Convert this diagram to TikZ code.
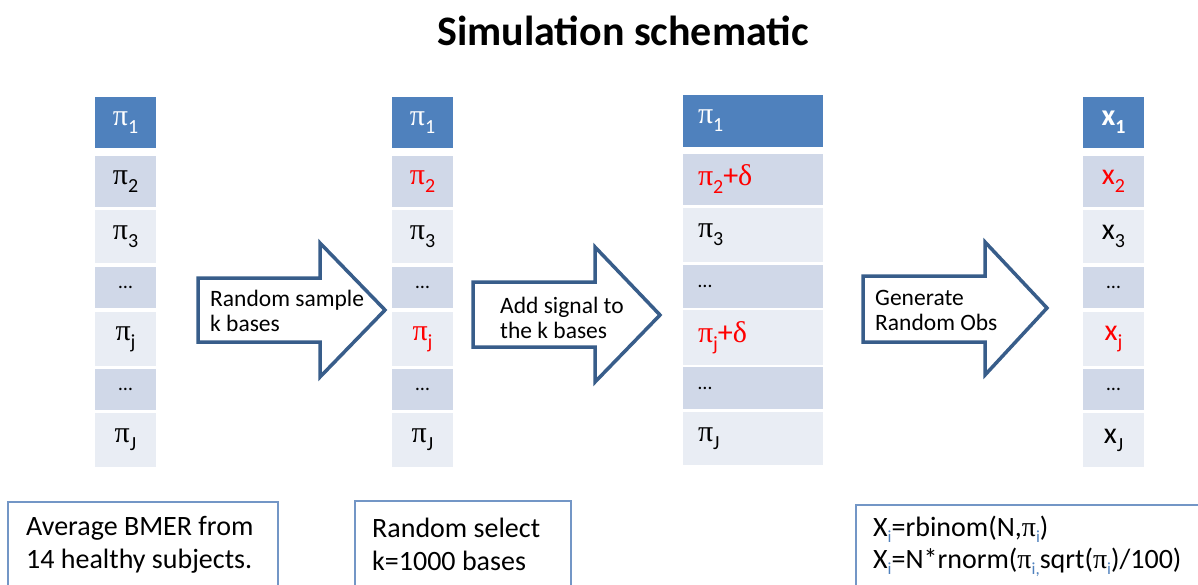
\documentclass[tikz,border=0pt]{standalone}
\usepackage{fontspec}
\setmainfont{Carlito}
\newfontfamily\grk{Liberation Serif}
\definecolor{hdr}{HTML}{4F81BD}
\definecolor{rowd}{HTML}{D0D8E8}
\definecolor{rowl}{HTML}{E9EDF4}
\definecolor{arrc}{HTML}{385D8A}
\definecolor{boxc}{HTML}{7396C6}
\definecolor{subc}{HTML}{4F81BD}
\definecolor{redc}{HTML}{FF0000}
\newcommand\p{{\grk π}}
\newcommand\dl{{\grk δ}}
\newcommand\sbs[1]{\raisebox{-8pt}{\fontsize{20}{20}\selectfont #1}}
\newcommand\bsb[1]{\raisebox{-6pt}{\fontsize{17}{17}\selectfont\color{subc}#1}}
\newcommand\eldots{{\fontsize{20}{20}\selectfont …}}
\newcommand\tc[7]{\node[#2,minimum width=#6pt,minimum height={(#5-#4)*1pt}] (#1) at (#3,#4) {#7};}
\begin{document}
\begin{tikzpicture}[x=1pt,y=-1pt]
\useasboundingbox (0,0) rectangle (1198,584);
\tikzset{
 cellbase/.style={inner sep=0pt, outer sep=0pt, anchor=north west, text=black, font=\fontsize{30}{32}\selectfont},
 hd/.style={cellbase, fill=hdr, text=white},
 dk/.style={cellbase, fill=rowd},
 lt/.style={cellbase, fill=rowl},
 lft/.style={text width=#1, align=left, inner xsep=15pt},
 arr/.style={draw=arrc, line width=3.5pt, fill=white, line join=miter},
 arrtext/.style={anchor=base west, align=left, inner sep=0pt, font=\fontsize{23.5}{25}\selectfont},
 bx/.style={draw=boxc, line width=1.8pt},
 bxtext/.style={anchor=base west, align=left, inner sep=0pt, font=\fontsize{28}{33}\selectfont},
}
% title
\node[font=\fontsize{42}{46}\selectfont\bfseries] (title) at (623,31) {Simulation schematic};

% column 1
\tc{a1}{hd}{95}{97}{148}{61}{\p\sbs{1}}
\tc{a2}{dk}{95}{156}{207}{61}{\p\sbs{2}}
\tc{a3}{lt}{95}{210}{263}{61}{\p\sbs{3}}
\tc{a4}{dk}{95}{267}{308}{61}{\eldots}
\tc{a5}{lt}{95}{312}{366}{61}{\p\sbs{j}}
\tc{a6}{dk}{95}{369}{410}{61}{\eldots}
\tc{a7}{lt}{95}{413}{467}{61}{\p\sbs{J}}

% column 2
\tc{b1}{hd}{392}{97}{148}{61}{\p\sbs{1}}
\tc{b2}{dk}{392}{156}{207}{61}{\color{redc}\p\sbs{2}}
\tc{b3}{lt}{392}{210}{263}{61}{\p\sbs{3}}
\tc{b4}{dk}{392}{267}{308}{61}{\eldots}
\tc{b5}{lt}{392}{312}{366}{61}{\color{redc}\p\sbs{j}}
\tc{b6}{dk}{392}{369}{410}{61}{\eldots}
\tc{b7}{lt}{392}{413}{467}{61}{\p\sbs{J}}

% column 3
\tc{c1}{hd,lft=110pt}{683}{95}{147}{140}{\p\sbs{1}}
\tc{c2}{dk,lft=110pt}{683}{154}{205}{140}{\color{redc}\p\sbs{2}+\dl}
\tc{c3}{lt,lft=110pt}{683}{208}{262}{140}{\p\sbs{3}}
\tc{c4}{dk,lft=110pt}{683}{265}{308}{140}{\eldots}
\tc{c5}{lt,lft=110pt}{683}{310}{365}{140}{\color{redc}\p\sbs{j}+\dl}
\tc{c6}{dk,lft=110pt}{683}{367}{409}{140}{\eldots}
\tc{c7}{lt,lft=110pt}{683}{412}{465}{140}{\p\sbs{J}}

% column 4
\tc{d1}{hd}{1083}{97}{148}{61}{\textbf{x}\sbs{\textbf{1}}}
\tc{d2}{dk}{1083}{156}{207}{61}{\color{redc}x\sbs{2}}
\tc{d3}{lt}{1083}{210}{263}{61}{x\sbs{3}}
\tc{d4}{dk}{1083}{267}{308}{61}{\eldots}
\tc{d5}{lt}{1083}{312}{366}{61}{\color{redc}x\sbs{j}}
\tc{d6}{dk}{1083}{369}{410}{61}{\eldots}
\tc{d7}{lt}{1083}{413}{467}{61}{x\sbs{J}}

% block arrows
\draw[arr] (198,278) -- (320,278) -- (320,243) -- (385,310) -- (320,377) -- (320,342) -- (198,342) -- cycle;
\node[arrtext] (t1) at (210,331) {Random sample\\k bases};
\draw[arr] (473,282) -- (595,282) -- (595,247) -- (660,315) -- (595,382) -- (595,347) -- (473,347) -- cycle;
\node[arrtext] (t2) at (500,338) {Add signal to\\the k bases};
\draw[arr] (863,276) -- (985,276) -- (985,242) -- (1047,308) -- (985,375) -- (985,342) -- (863,342) -- cycle;
\node[arrtext] (t3) at (875,330) {Generate\\Random Obs};

% bottom boxes
\draw[bx] (8,586) -- (8,502) -- (278,502) -- (278,586);
\node[bxtext] (n1) at (26,568) {Average BMER from\\14 healthy subjects.};
\draw[bx] (355,586) -- (355,501) -- (571,501) -- (571,586);
\node[bxtext] (n2) at (372,570) {Random select\\k=1000 bases};
\draw[bx] (856,586) -- (856,505) -- (1200,505);
\node[bxtext, font=\fontsize{28}{32}\selectfont] (n3) at (873,568) {X\bsb{i}=rbinom(N,\p\bsb{i})\\X\bsb{i}=N*rnorm(\p\bsb{i,}sqrt(\p\bsb{i})/100)};
\end{tikzpicture}
\end{document}
